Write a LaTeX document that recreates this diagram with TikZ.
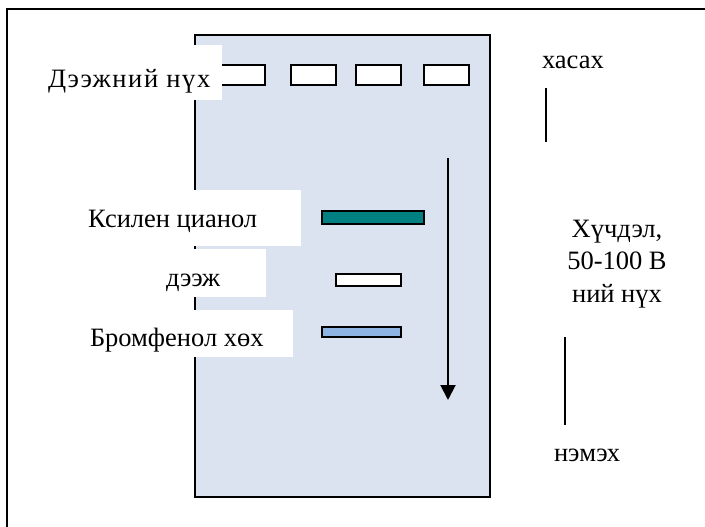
\documentclass[tikz,border=0pt]{standalone}
\usepackage{fontspec}
\setmainfont{Liberation Serif}
\usetikzlibrary{arrows.meta}
\definecolor{gelblue}{RGB}{219,227,240}
\definecolor{bandteal}{RGB}{0,128,128}
\definecolor{bandblue}{RGB}{142,180,227}

\begin{document}
\begin{tikzpicture}[x = 1pt, y = -1pt, line width = 2pt,
	lbl/.style = {font = \fontsize{26.5}{32.5}\selectfont, inner sep = 0pt},
	well/.style = {draw = black, fill = white, line width = 2pt},
	band/.style = {draw = black, line width = 1.8pt}]
	\useasboundingbox (0, 0) rectangle (705, 527);
	% frame
	\draw [black] (705, 9) -- (7, 9) -- (7, 527);
	% gel
	\draw [black, fill = gelblue] (195, 35) rectangle (490, 497);
	\foreach \w in {220, 291, 356, 424}
		\draw [well] (\w, 65) rectangle ++(45, 20);
	\draw [band, fill = bandteal] (322, 211) rectangle (424, 224);
	\draw [band, fill = white] (336, 274) rectangle (401, 286);
	\draw [band, fill = bandblue] (322, 327) rectangle (401, 337);
	% label backgrounds
	\fill [white] (40, 45) rectangle (222, 100);
	\fill [white] (80, 190) rectangle (301, 246);
	\fill [white] (150, 249) rectangle (266, 297);
	\fill [white] (80, 310) rectangle (293, 357);
	% labels
	\node [lbl, anchor = base west] (wells) at (47, 88) {\addfontfeature{LetterSpace = 6}Дээжний нүх};
	\node [lbl, anchor = base west] (xylene) at (87, 227) {Ксилен цианол};
	\node [lbl, anchor = base west] (sample) at (165, 286) {дээж};
	\node [lbl, anchor = base west] (bromo) at (89, 346) {Бромфенол хөх};
	\node [lbl, anchor = base west] (minus) at (541, 69) {хасах};
	\node [lbl, anchor = base west] (plus) at (553, 461) {нэмэх};
	\node [lbl, align = center] (volt) at (617, 264) {Хүчдэл,\\50-100 В\\ний нүх};
	% electrodes and run direction
	\coordinate (mtop) at (546, 88);
	\coordinate (mbot) at (546, 142);
	\coordinate (ptop) at (565, 337);
	\coordinate (pbot) at (565, 425);
	\coordinate (runtop) at (448, 158);
	\coordinate (runbot) at (448, 400);
	\draw [black] (mtop) -- (mbot);
	\draw [black] (ptop) -- (pbot);
	\draw [black, -{Triangle[width = 15pt, length = 15pt]}] (runtop) -- (runbot);
\end{tikzpicture}
\end{document}
